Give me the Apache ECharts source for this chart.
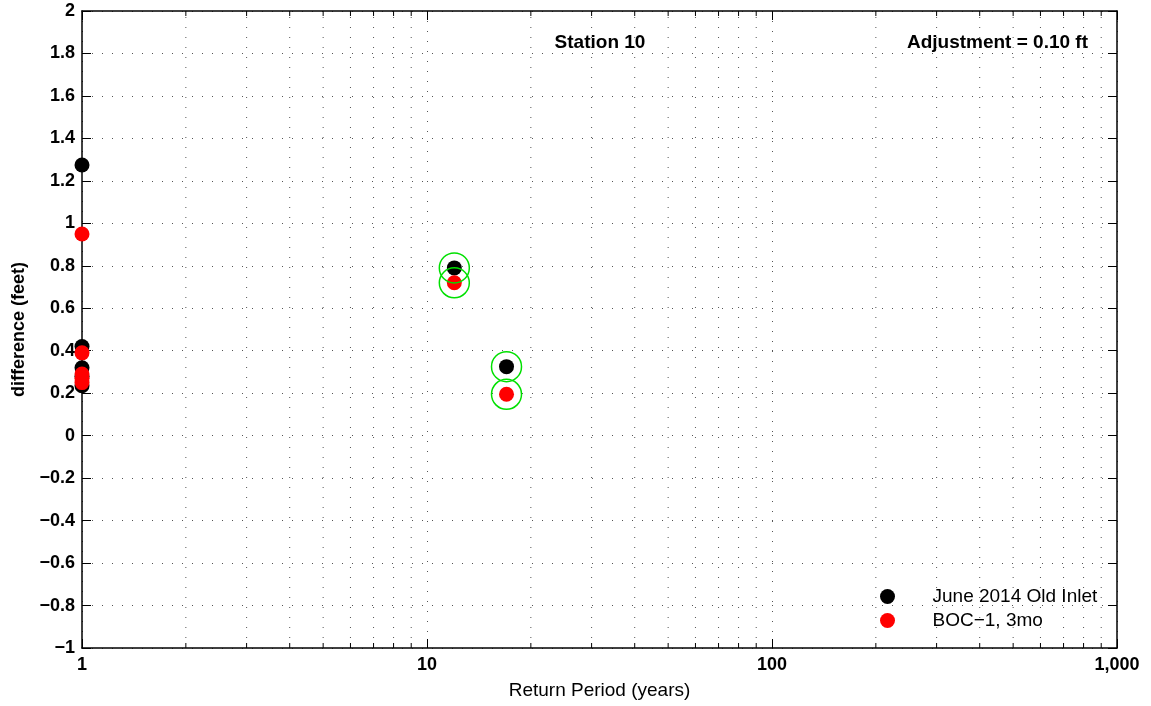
<!DOCTYPE html>
<html><head><meta charset="utf-8">
<script src="https://cdn.jsdelivr.net/npm/echarts@6/dist/echarts.min.js"></script>
<style>html,body{margin:0;padding:0;background:#fff}#c{width:1151px;height:706px}</style>
</head><body><div id="c"></div>
<script>
const FONT = '"Liberation Sans", Arial, Helvetica, sans-serif';
const xTickValues = [1, 10, 100, 1000];
const xTickLabels = ['1', '10', '100', '1,000'];
const xMinorValues = [2,3,4,5,6,7,8,9,20,30,40,50,60,70,80,90,200,300,400,500,600,700,800,900];
const yMin = -1, yMax = 2, yStep = 0.2;
const seriesNames = ['June 2014 Old Inlet', 'BOC\u22121, 3mo'];
const juneX = [1, 1, 1, 1, 1, 12, 17];
const juneY = [1.275, 0.42, 0.32, 0.28, 0.235, 0.79, 0.325];
const bocX = [1, 1, 1, 1, 1, 12, 17];
const bocY = [0.95, 0.39, 0.29, 0.27, 0.25, 0.72, 0.195];
const ringX = [12, 12, 17, 17];
const ringY = [0.79, 0.72, 0.325, 0.195];
const titleText = 'Station 10';
const adjText = 'Adjustment = 0.10 ft';
const xName = 'Return Period (years)';
const yName = 'difference (feet)';

const zip = (xs, ys) => xs.map((x, i) => [x, ys[i]]);
const chart = echarts.init(document.getElementById('c'), null, {renderer: 'canvas'});
const dotted = {color: '#555', width: 1, type: [1, 9]};
const yFmt = v => String(Math.round(v * 10) / 10).replace('-', '\u2212');
const xFmt = v => { const i = xTickValues.indexOf(Math.round(v)); return i >= 0 ? xTickLabels[i] : ''; };

chart.setOption({
  animation: false,
  backgroundColor: '#fff',
  textStyle: {fontFamily: FONT},
  grid: {left: 82, right: 34, top: 11, bottom: 58, containLabel: false},
  xAxis: [{
    type: 'log', logBase: 10, min: 1, max: 1000, position: 'bottom',
    name: xName, nameLocation: 'middle', nameGap: 33,
    nameTextStyle: {fontFamily: FONT, fontSize: 19, color: '#000'},
    axisLine: {show: true, onZero: false, lineStyle: {color: '#000', width: 1.5}},
    axisTick: {show: true, inside: true, length: 9, lineStyle: {color: '#000', width: 1}},
    axisLabel: {formatter: xFmt, fontFamily: FONT, fontSize: 18, fontWeight: 'bold', color: '#000', margin: 8},
    splitLine: {show: true, lineStyle: dotted}
  }, {
    type: 'log', logBase: 10, min: 1, max: 1000, position: 'top',
    axisLine: {show: true, onZero: false, lineStyle: {color: '#000', width: 1.5}},
    axisTick: {show: true, inside: true, length: 9, lineStyle: {color: '#000', width: 1}},
    axisLabel: {show: false}, splitLine: {show: false}
  }],
  yAxis: [{
    type: 'value', min: yMin, max: yMax, interval: yStep, position: 'left',
    name: yName, nameLocation: 'middle', nameGap: 54, nameRotate: 90,
    nameTextStyle: {fontFamily: FONT, fontSize: 18, fontWeight: 'bold', color: '#000'},
    axisLine: {show: true, onZero: false, lineStyle: {color: '#000', width: 1.5}},
    axisTick: {show: true, inside: true, length: 9, lineStyle: {color: '#000', width: 1}},
    axisLabel: {formatter: yFmt, fontFamily: FONT, fontSize: 18, fontWeight: 'bold', color: '#000', margin: 7},
    splitLine: {show: true, lineStyle: dotted}
  }, {
    type: 'value', min: yMin, max: yMax, interval: yStep, position: 'right',
    axisLine: {show: true, onZero: false, lineStyle: {color: '#000', width: 1.5}},
    axisTick: {show: true, inside: true, length: 9, lineStyle: {color: '#000', width: 1}},
    axisLabel: {show: false}, splitLine: {show: false}
  }],
  legend: {
    orient: 'vertical', left: 880, top: 587, itemWidth: 80, itemHeight: 15, itemGap: 5,
    icon: 'circle', padding: 0,
    textStyle: {fontFamily: FONT, fontSize: 19, color: '#000', lineHeight: 19},
    data: seriesNames
  },
  graphic: [
    {type: 'text', x: 600, y: 43, z: 100, style: {text: titleText, font: 'bold 19px ' + FONT, fill: '#000', textAlign: 'center', textVerticalAlign: 'middle', align: 'center', verticalAlign: 'middle'}},
    {type: 'text', x: 1088, y: 43, z: 100, style: {text: adjText, font: 'bold 19px ' + FONT, fill: '#000', textAlign: 'right', textVerticalAlign: 'middle', align: 'right', verticalAlign: 'middle'}}
  ],
  series: [{
    type: 'custom', silent: true, z: 1, xAxisIndex: 0, yAxisIndex: 0,
    data: xMinorValues.map(v => [v, yMin]),
    encode: {x: 0, y: 1},
    renderItem: (params, api) => {
      const x = api.value(0);
      const b = api.coord([x, yMin]);
      const t = api.coord([x, yMax]);
      return {type: 'group', children: [
        {type: 'line', shape: {x1: b[0], y1: b[1], x2: t[0], y2: t[1]}, style: {stroke: '#555', lineWidth: 1, lineDash: [1, 9]}},
        {type: 'line', shape: {x1: b[0], y1: b[1], x2: b[0], y2: b[1] - 5}, style: {stroke: '#000', lineWidth: 1}},
        {type: 'line', shape: {x1: t[0], y1: t[1], x2: t[0], y2: t[1] + 5}, style: {stroke: '#000', lineWidth: 1}}
      ]};
    }
  }, {
    name: seriesNames[0], type: 'scatter', symbol: 'circle', symbolSize: 15, z: 3, clip: false,
    itemStyle: {color: '#000', opacity: 1},
    data: zip(juneX, juneY)
  }, {
    name: seriesNames[1], type: 'scatter', symbol: 'circle', symbolSize: 15, z: 4, clip: false,
    itemStyle: {color: '#ff0000', opacity: 1},
    data: zip(bocX, bocY)
  }, {
    name: 'highlight', type: 'scatter', symbol: 'circle', symbolSize: 30, z: 5, clip: false, silent: true,
    itemStyle: {color: 'rgba(0,0,0,0)', borderColor: '#00e000', borderWidth: 1.5, opacity: 1},
    data: zip(ringX, ringY)
  }]
});
</script></body></html>
